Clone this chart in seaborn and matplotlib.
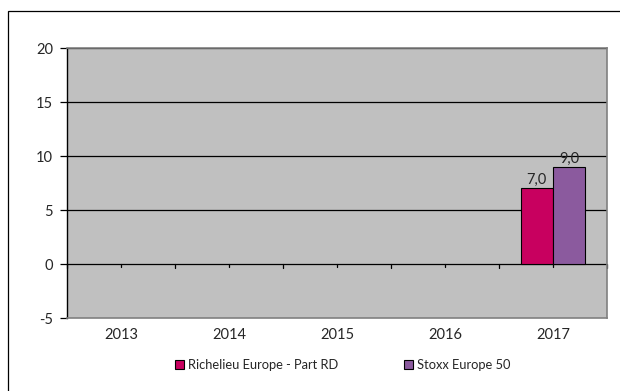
import matplotlib
matplotlib.use("Agg")
import matplotlib.pyplot as plt
from matplotlib.patches import Rectangle, Patch
import seaborn as sns
import pandas as pd
import numpy as np

years = ["2013", "2014", "2015", "2016", "2017"]
richelieu = [np.nan, np.nan, np.nan, np.nan, 7.0]
stoxx = [np.nan, np.nan, np.nan, np.nan, 9.0]
series_names = ["Richelieu Europe - Part RD", "Stoxx Europe 50"]
colors = ["#C8005F", "#8B5A9E"]
yticks = [-5, 0, 5, 10, 15, 20]

df = pd.DataFrame({
    "year": years * 2,
    "value": richelieu + stoxx,
    "series": [series_names[0]] * len(years) + [series_names[1]] * len(years),
})

sns.set_theme(style="white")
plt.rcParams["font.family"] = ["Lato", "DejaVu Sans"]

fig = plt.figure(figsize=(6.2, 3.91), dpi=100)
ax = fig.add_axes([67 / 620, 1 - 318 / 391, 540 / 620, 270 / 391])
ax.set_facecolor("#C0C0C0")

sns.barplot(data=df, x="year", y="value", hue="series", order=years,
            hue_order=series_names, palette=colors, width=0.6, saturation=1,
            edgecolor="black", linewidth=0.8, legend=False, ax=ax, zorder=3)

ax.set_ylim(-5, 20)
ax.set_xlim(-0.5, len(years) - 0.5)
ax.set_yticks(yticks)
ax.set_yticklabels([str(t) for t in yticks], fontsize=10.5)
for t in yticks[1:]:
    ax.axhline(t, color="black", lw=0.9, zorder=1)

ax.set_xlabel("")
ax.set_ylabel("")
ax.tick_params(axis="x", length=0, labelsize=10.5, pad=7)
ax.tick_params(axis="y", length=5, width=0.9, color="black", left=True, pad=5)

for s in ["top", "right", "bottom"]:
    ax.spines[s].set_color("#808080")
    ax.spines[s].set_linewidth(1.2)
ax.spines["left"].set_color("black")
ax.spines["left"].set_linewidth(1.0)

# small ticks on the zero line
for i in range(len(years) + 1):
    x = i - 0.5
    ax.plot([x, x], [0, -0.4], color="black", lw=0.9, zorder=2, clip_on=False)
for i in range(len(years)):
    ax.plot([i, i], [0, -0.3], color="black", lw=0.9, zorder=2)

# data labels
for container in ax.containers:
    labels = []
    for v in container.datavalues:
        labels.append("" if np.isnan(v) else f"{v:.1f}".replace(".", ","))
    ax.bar_label(container, labels=labels, fontsize=10.5, padding=1)

handles = [Patch(facecolor=c, edgecolor="black", linewidth=0.8) for c in colors]
fig.legend(handles, series_names, loc="center", bbox_to_anchor=(0.553, 0.066),
           ncol=2, frameon=False, fontsize=9.3, handlelength=0.7,
           handleheight=0.7, handletextpad=0.3, columnspacing=5.1)

border = Rectangle((8 / 620, -0.1), 1.2, 1 - 11 / 391 + 0.1,
                   transform=fig.transFigure, fill=False, edgecolor="black",
                   lw=0.9, clip_on=False)
fig.patches.append(border)

fig.savefig("out.png", dpi=100)
